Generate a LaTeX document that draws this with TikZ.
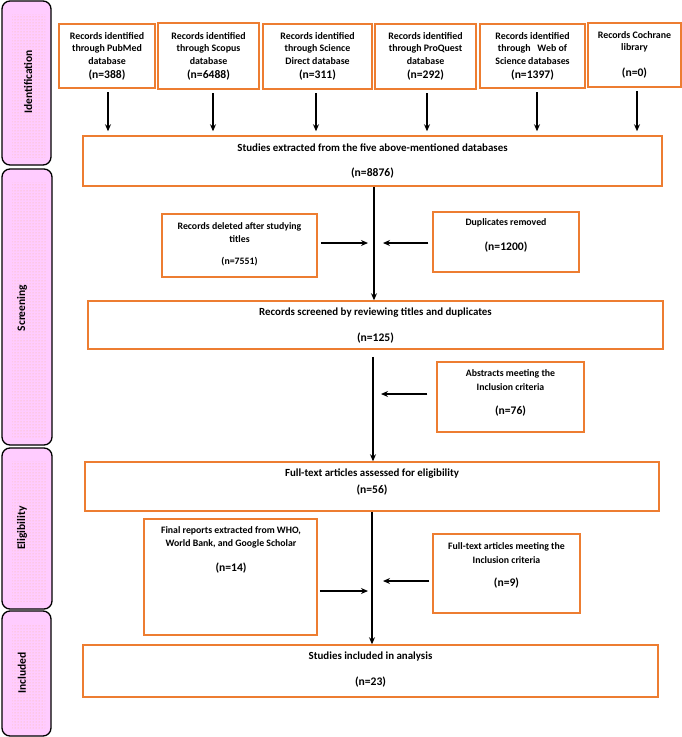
\documentclass[tikz,border=0pt]{standalone}
\usepackage{fontspec}
\setmainfont{Carlito}
\usetikzlibrary{arrows.meta,fit,patterns}
\definecolor{boxorange}{RGB}{237,125,49}
\definecolor{phasepink}{RGB}{255,204,255}
\definecolor{dotorange}{RGB}{250,185,150}
\tikzset{
  box/.style={draw=boxorange, line width=1.5pt, inner sep=0pt},
  phase/.style={draw=black, line width=1.3pt, fill=phasepink, rounded corners=8pt, inner sep=0pt},
  dotfill/.style={pattern=dots, pattern color=dotorange, inner sep=0pt},
  plabel/.style={rotate=90, font=\fontsize{11.5}{14}\selectfont\bfseries, inner sep=0pt},
  toptxt/.style={align=center, font=\fontsize{9.9}{12.5}\selectfont\bfseries, inner sep=0pt},
  sidetxt/.style={align=center, font=\fontsize{9.8}{13.5}\selectfont\bfseries, inner sep=0pt},
  bigtxt/.style={font=\fontsize{10.9}{13}\selectfont\bfseries, inner sep=0pt},
  ntxt/.style={font=\fontsize{11.6}{14}\selectfont\bfseries, inner sep=0pt},
  arr/.style={-{Stealth[length=7pt,width=6pt]}, line width=1.3pt},
}
\begin{document}
\begin{tikzpicture}[x=1pt,y=-1pt]
\useasboundingbox (0,0) rectangle (682,737);

% phase bars
\node[phase, fit={(2,1) (51,165)}] (ident) {};
\node[dotfill, fit={(12,14) (45,157)}] (identd) {};
\node[plabel] (identL) at (28,82) {Identification};

\node[phase, fit={(2,169) (52,445)}] (screen) {};
\node[dotfill, fit={(12,182) (46,437)}] (screend) {};
\node[plabel] (screenL) at (22,308) {Screening};

\node[phase, fit={(2,448) (52,609)}] (elig) {};
\node[dotfill, fit={(12,461) (46,601)}] (eligd) {};
\node[plabel] (eligL) at (22,528) {Eligibility};

\node[phase, fit={(2,611) (51,736)}] (incl) {};
\node[dotfill, fit={(12,624) (45,728)}] (incld) {};
\node[plabel] (inclL) at (22,673) {Included};

% top boxes
\node[box, fit={(59,24) (155,88)}] (pub) {};
\node[toptxt] (pubT) at (107,48.5) {Records identified\\through PubMed\\database};
\node[ntxt] (pubN) at (107,75) {(n=388)};

\node[box, fit={(158,23) (259,89)}] (sco) {};
\node[toptxt] (scoT) at (208.5,48.5) {Records identified\\through Scopus\\database};
\node[ntxt] (scoN) at (208.5,75) {(n=6488)};

\node[box, fit={(263,24) (372,89)}] (sd) {};
\node[toptxt] (sdT) at (317.5,48.5) {Records identified\\through Science\\Direct database};
\node[ntxt] (sdN) at (317.5,75) {(n=311)};

\node[box, fit={(375,24) (476,89)}] (pq) {};
\node[toptxt] (pqT) at (425.5,48.5) {Records identified\\through ProQuest\\database};
\node[ntxt] (pqN) at (425.5,75) {(n=292)};

\node[box, fit={(480,24) (585,88)}] (wos) {};
\node[toptxt] (wosT) at (532.5,48.5) {Records identified\\through\ \ \ Web of\\Science databases};
\node[ntxt] (wosN) at (532.5,75) {(n=1397)};

\node[box, fit={(588,23) (681,87)}] (coc) {};
\node[toptxt] (cocT) at (634.5,42) {Records Cochrane\\library};
\node[ntxt] (cocN) at (634.5,73) {(n=0)};

% main column
\node[box, fit={(83,136) (662,186)}] (studies) {};
\node[bigtxt] (studiesT) at (372.5,148) {Studies extracted from the five above-mentioned databases};
\node[ntxt] (studiesN) at (372.5,173) {(n=8876)};

\node[box, fit={(162,214) (317,277)}] (deleted) {};
\node[sidetxt] (deletedT) at (239.5,232.5) {Records deleted after studying\\titles};
\node[sidetxt] (deletedN) at (239.5,262) {(n=7551)};

\node[box, fit={(433,212) (579,272)}] (dup) {};
\node[sidetxt] (dupT) at (506,223) {Duplicates removed};
\node[ntxt] (dupN) at (506,247) {(n=1200)};

\node[box, fit={(88,301) (663,349)}] (screened) {};
\node[bigtxt] (screenedT) at (375.5,313) {Records screened by reviewing titles and duplicates};
\node[ntxt] (screenedN) at (375.5,338) {(n=125)};

\node[box, fit={(437,362) (584,432)}] (abs) {};
\node[sidetxt] (absT) at (510.5,380) {Abstracts meeting the\\Inclusion criteria};
\node[ntxt] (absN) at (510.5,411) {(n=76)};

\node[box, fit={(85,462) (659,511)}] (fulltext) {};
\node[bigtxt] (fulltextT) at (372,474) {Full-text articles assessed for eligibility};
\node[ntxt] (fulltextN) at (372,490) {(n=56)};

\node[box, fit={(144,519) (317,635)}] (final) {};
\node[sidetxt] (finalT) at (231,537.5) {Final reports extracted from WHO,\\World Bank, and Google Scholar};
\node[ntxt] (finalN) at (231,568) {(n=14)};

\node[box, fit={(433,534) (580,613)}] (meet) {};
\node[sidetxt] (meetT) at (506.5,553) {Full-text articles meeting the\\Inclusion criteria};
\node[ntxt] (meetN) at (506.5,583) {(n=9)};

\node[box, fit={(83,645) (658,697)}] (included) {};
\node[bigtxt] (includedT) at (370.5,657) {Studies included in analysis};
\node[ntxt] (includedN) at (370.5,682) {(n=23)};

% top arrows
\coordinate (a1) at ([xshift=1pt]pub.south);
\coordinate (a2) at ([xshift=4.5pt]sco.south);
\coordinate (a3) at ([xshift=-1.5pt]sd.south);
\coordinate (a4) at ([xshift=1.5pt]pq.south);
\coordinate (a5) at ([xshift=4.5pt]wos.south);
\coordinate (a6) at ([xshift=2.5pt]coc.south);
\foreach \a in {a1,a2,a3,a4,a5,a6}
  \draw[arr, shorten <=3.5pt, shorten >=4pt] (\a) -- (\a |- studies.north);

% main line
\coordinate (c1) at (374,0);
\coordinate (c2) at (373,0);
\coordinate (c3) at (372,0);
\coordinate (j1) at (374,243);
\coordinate (j2) at (373,394);
\coordinate (j3) at (372,591);
\coordinate (j4) at (372,581);
\draw[arr] (studies.south -| c1) -- (screened.north -| c1);
\draw[arr, shorten <=7pt] (screened.south -| c2) -- (fulltext.north -| c2);
\draw[arr] (fulltext.south -| c3) -- (included.north -| c3);

% side arrows
\draw[arr, shorten <=3pt, shorten >=6pt] (deleted.east |- j1) -- (j1);
\draw[arr, shorten <=4pt, shorten >=9pt] (dup.west |- j1) -- (j1);
\draw[arr, shorten <=9pt, shorten >=8pt] (abs.west |- j2) -- (j2);
\draw[arr, shorten <=2pt, shorten >=4pt] (final.east |- j3) -- (j3);
\draw[arr, shorten <=3pt, shorten >=11pt] (meet.west |- j4) -- (j4);
\end{tikzpicture}
\end{document}
